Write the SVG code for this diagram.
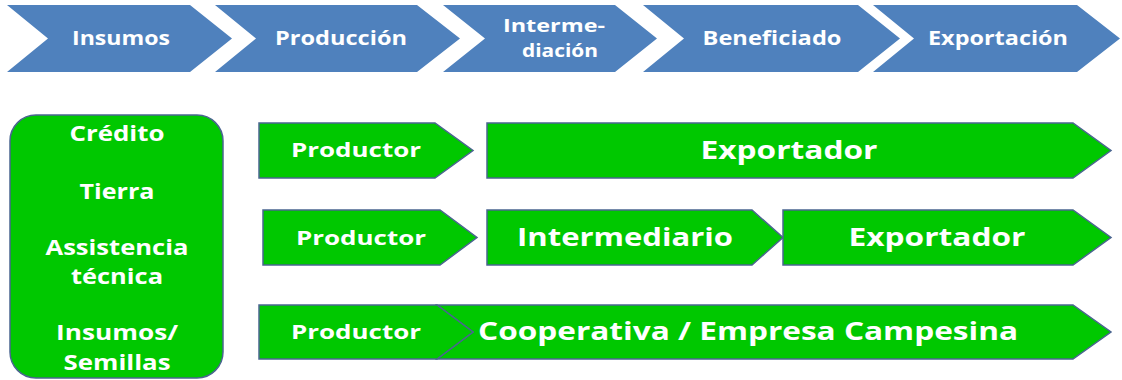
<svg xmlns="http://www.w3.org/2000/svg" width="1122" height="380" viewBox="0 0 1122 380">
<style>
.chev{fill:#4F81BD;stroke:none}
.box{fill:#00C800;stroke:#4A6590;stroke-width:1.5}
.t{font-family:"Open Sans","Liberation Sans",sans-serif;font-weight:bold;fill:#ffffff;text-anchor:middle}
.th{font-size:19px}
.th2{font-size:18px}
.tl{font-size:21px}
.tp{font-size:20px}
.tb{font-size:25.5px}
</style>
<rect width="1122" height="380" fill="#ffffff"/>
<g id="stage-insumos">
<polygon class="chev" points="7,5 190,5 232,38.5 190,72 7,72 48,38.5"/>
<text class="t th" x="121" y="45" textLength="98" lengthAdjust="spacingAndGlyphs">Insumos</text>
</g>
<g id="stage-produccion">
<polygon class="chev" points="215,5 417,5 460,38.5 417,72 215,72 256,38.5"/>
<text class="t th" x="341" y="45" textLength="132" lengthAdjust="spacingAndGlyphs">Producción</text>
</g>
<g id="stage-intermediacion">
<polygon class="chev" points="443,5 615,5 657,38.5 615,72 443,72 485,38.5"/>
<text class="t th2" x="554" y="32" textLength="102" lengthAdjust="spacingAndGlyphs">Interme-</text>
<text class="t th2" x="560" y="57" textLength="76" lengthAdjust="spacingAndGlyphs">diación</text>
</g>
<g id="stage-beneficiado">
<polygon class="chev" points="643,5 858,5 900,38.5 858,72 643,72 684,38.5"/>
<text class="t th" x="772" y="45" textLength="139" lengthAdjust="spacingAndGlyphs">Beneficiado</text>
</g>
<g id="stage-exportacion">
<polygon class="chev" points="873,5 1077,5 1120,38.5 1077,72 873,72 914,38.5"/>
<text class="t th" x="998" y="45" textLength="140" lengthAdjust="spacingAndGlyphs">Exportación</text>
</g>
<g id="insumos-box">
<rect class="box" x="10" y="115" width="213" height="263" rx="26" ry="26"/>
<text class="t tl" x="117" y="141" textLength="95" lengthAdjust="spacingAndGlyphs">Crédito</text>
<text class="t tl" x="117" y="199" textLength="75" lengthAdjust="spacingAndGlyphs">Tierra</text>
<text class="t tl" x="117" y="255" textLength="143" lengthAdjust="spacingAndGlyphs">Assistencia</text>
<text class="t tl" x="117" y="284" textLength="92" lengthAdjust="spacingAndGlyphs">técnica</text>
<text class="t tl" x="117" y="340" textLength="122" lengthAdjust="spacingAndGlyphs">Insumos/</text>
<text class="t tl" x="117" y="370" textLength="107" lengthAdjust="spacingAndGlyphs">Semillas</text>
</g>
<g id="row1-productor">
<polygon class="box" points="259,123 435,123 473,150.5 435,178 259,178"/>
<text class="t tp" x="356" y="157" textLength="130" lengthAdjust="spacingAndGlyphs">Productor</text>
</g>
<g id="row1-exportador">
<polygon class="box" points="487,123 1073,123 1111,150.5 1073,178 487,178"/>
<text class="t tb" x="789" y="159" textLength="177" lengthAdjust="spacingAndGlyphs">Exportador</text>
</g>
<g id="row2-productor">
<polygon class="box" points="263,210 440,210 477,237.5 440,265 263,265"/>
<text class="t tp" x="361" y="245" textLength="130" lengthAdjust="spacingAndGlyphs">Productor</text>
</g>
<g id="row2-intermediario">
<polygon class="box" points="487,210 752,210 783,237.5 752,265 487,265"/>
<text class="t tb" x="625" y="246" textLength="216" lengthAdjust="spacingAndGlyphs">Intermediario</text>
</g>
<g id="row2-exportador">
<polygon class="box" points="783,210 1073,210 1111,237.5 1073,265 783,265"/>
<text class="t tb" x="937" y="246" textLength="177" lengthAdjust="spacingAndGlyphs">Exportador</text>
</g>
<g id="row3-cooperativa">
<polygon class="box" points="437,305 1073,305 1111,332 1073,359 437,359 473,332"/>
<text class="t tb" x="748" y="340" textLength="540" lengthAdjust="spacingAndGlyphs">Cooperativa / Empresa Campesina</text>
</g>
<g id="row3-productor">
<polygon class="box" points="259,305 437,305 473,332 437,359 259,359"/>
<text class="t tp" x="356" y="339" textLength="130" lengthAdjust="spacingAndGlyphs">Productor</text>
</g>
<g id="connectors"></g>
</svg>
